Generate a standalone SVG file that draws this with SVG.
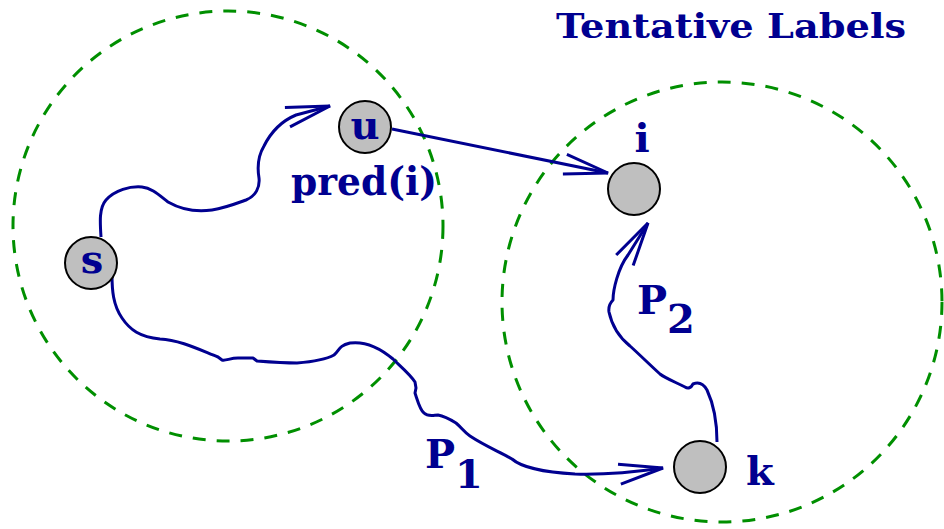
<svg xmlns="http://www.w3.org/2000/svg" width="944" height="529" viewBox="0 0 944 529">
<style>
.region{fill:none;stroke:#008f00;stroke-width:3;stroke-dasharray:13 11}
.node{fill:#bfbfbf;stroke:#000;stroke-width:2}
.edge{fill:none;stroke:#000090;stroke-width:3;stroke-linejoin:round}
.lbl{font-family:"DejaVu Serif","Liberation Serif",serif;font-weight:bold;fill:#000090;font-size:40px}
</style>
<defs>
<marker id="arr" markerUnits="userSpaceOnUse" markerWidth="60" markerHeight="40" refX="0" refY="0" viewBox="-50 -20 60 40" orient="auto" overflow="visible">
<path d="M-44,-10 L0,0 L-44,10" fill="none" stroke="#000090" stroke-width="3"/>
</marker>
</defs>
<rect width="944" height="529" fill="#fff"/>
<g id="regions">
<circle class="region" cx="228" cy="226" r="215"/>
<circle class="region" cx="722" cy="302" r="220"/>
</g>
<g id="connectors">
<path class="edge" marker-end="url(#arr)" d="M101,237 C100,222 99,208 106,200 C115,190 130,186 142,187 C152,188 160,196 168,202 C182,210 198,212 212,210 C225,208 235,204 246,200 C256,196 260,187 259,178 C257,166 258,156 264,146 C272,130 284,120 296,115 L330,106"/>
<path class="edge" marker-end="url(#arr)" d="M392,129 L608,173"/>
<path class="edge" marker-end="url(#arr)" d="M112,275 C112,290 113,305 122,318 C130,330 140,337 160,339 C180,340 200,350 218,357 L222,360 C226,361 230,358 238,358 L253,358 L257,361 C270,362 285,363 297,363 C310,362 325,360 334,355 C340,350 338,346 350,343 C365,341 380,348 393,359 C400,366 410,374 415,382 L416,388 L415,393 C418,402 420,410 424,413 C428,417 434,415 438,415 C444,416 448,418 456,423 C462,428 464,432 470,436 C485,446 500,452 512,459 C520,466 540,472 575,474 C605,475 635,472 663,468"/>
<path class="edge" marker-end="url(#arr)" d="M717,442 C717,425 714,405 707,390 C703,383 698,382 693,384 C691,388 688,389 685,387 C675,382 665,378 660,374 C650,365 640,355 630,346 C620,338 612,326 609,312 C608,305 611,302 613,300 C613,290 618,268 628,255 L648,223"/>
</g>
<g id="node-s">
<circle class="node" cx="91" cy="263" r="26"/>
<text class="lbl" x="92" y="273" text-anchor="middle">s</text>
</g>
<g id="node-u">
<circle class="node" cx="365" cy="127" r="26"/>
<text class="lbl" x="365" y="139" text-anchor="middle">u</text>
<text class="lbl" x="291" y="195" textLength="146" lengthAdjust="spacingAndGlyphs">pred(i)</text>
</g>
<g id="node-i">
<circle class="node" cx="634" cy="189" r="26"/>
<text class="lbl" x="642" y="152" text-anchor="middle">i</text>
</g>
<g id="node-k">
<circle class="node" cx="700" cy="467" r="26"/>
<text class="lbl" x="746" y="485">k</text>
</g>
<g id="labels">
<text class="lbl" x="556" y="38" textLength="350" lengthAdjust="spacingAndGlyphs" style="font-size:33px">Tentative Labels</text>
<text class="lbl" x="425" y="468">P</text>
<text class="lbl" x="455" y="488">1</text>
<text class="lbl" x="637" y="314">P</text>
<text class="lbl" x="667" y="333">2</text>
</g>
</svg>
